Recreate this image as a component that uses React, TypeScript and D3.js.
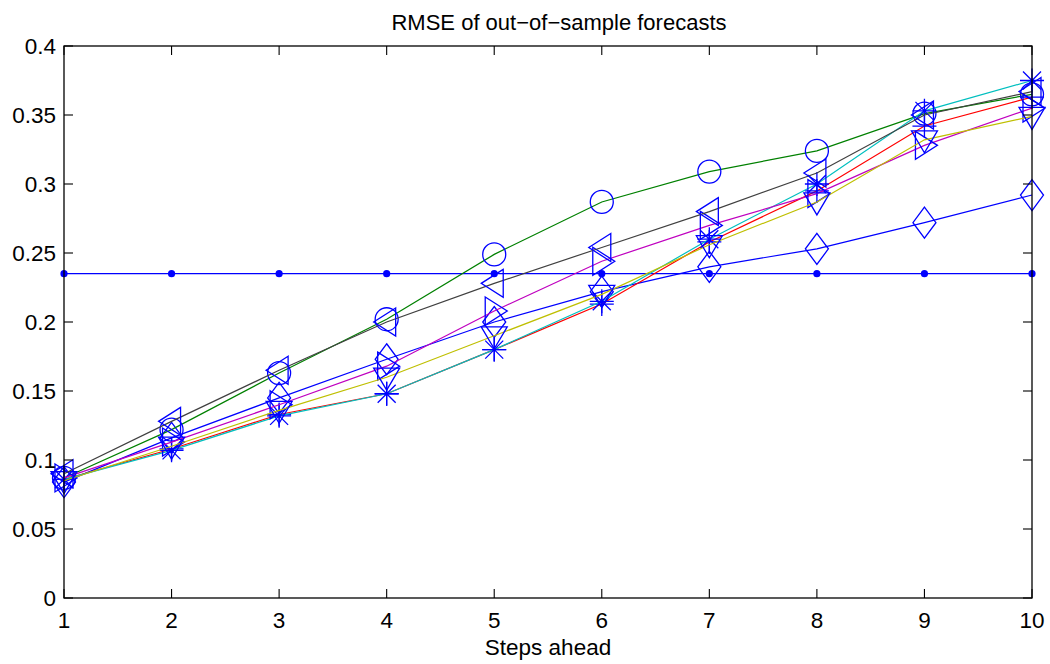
import React from "react";
import * as d3 from "d3";

const steps = [1, 2, 3, 4, 5, 6, 7, 8, 9, 10];
const xTicks = [1, 2, 3, 4, 5, 6, 7, 8, 9, 10];
const yTicks = [0, 0.05, 0.1, 0.15, 0.2, 0.25, 0.3, 0.35, 0.4];
const yTickLabels = ["0", "0.05", "0.1", "0.15", "0.2", "0.25", "0.3", "0.35", "0.4"];

const benchmark = [0.235, 0.235, 0.235, 0.235, 0.235, 0.235, 0.235, 0.235, 0.235, 0.235];
const seriesBlueDiamond = [0.084, 0.116, 0.145, 0.173, 0.2, 0.222, 0.24, 0.253, 0.272, 0.292];
const seriesGreenCircle = [0.087, 0.122, 0.163, 0.202, 0.249, 0.287, 0.309, 0.324, 0.351, 0.365];
const seriesRedPlus = [0.086, 0.108, 0.133, 0.148, 0.18, 0.213, 0.258, 0.295, 0.342, 0.363];
const seriesCyanStar = [0.086, 0.107, 0.132, 0.148, 0.18, 0.215, 0.26, 0.3, 0.353, 0.375];
const seriesMagentaRight = [0.087, 0.113, 0.14, 0.168, 0.208, 0.244, 0.27, 0.293, 0.328, 0.355];
const seriesYellowDown = [0.085, 0.11, 0.136, 0.16, 0.19, 0.22, 0.256, 0.287, 0.332, 0.349];
const seriesGreyLeft = [0.09, 0.128, 0.165, 0.2, 0.228, 0.254, 0.28, 0.308, 0.35, 0.367];

const title = "RMSE of out\u2212of\u2212sample forecasts";
const xLabel = "Steps ahead";

type Series = { values: number[]; color: string; marker: string };

const seriesList: Series[] = [
  { values: seriesBlueDiamond, color: "#0000ff", marker: "diamond" },
  { values: seriesGreenCircle, color: "#008000", marker: "circle" },
  { values: seriesRedPlus, color: "#ff0000", marker: "plus" },
  { values: seriesCyanStar, color: "#00bfbf", marker: "star" },
  { values: seriesMagentaRight, color: "#bf00bf", marker: "right" },
  { values: seriesYellowDown, color: "#bfbf00", marker: "down" },
  { values: seriesGreyLeft, color: "#404040", marker: "left" },
];

const W = 1050;
const H = 664;
const margin = { left: 64, right: 18, top: 46, bottom: 66 };

function markerPath(kind: string): string {
  switch (kind) {
    case "diamond":
      return "M0,-15.5L11.5,0L0,15.5L-11.5,0Z";
    case "circle":
      return "M11.5,0A11.5,11.5 0 1,1 -11.5,0A11.5,11.5 0 1,1 11.5,0Z";
    case "plus":
      return "M-12,0L12,0M0,-12L0,12";
    case "star":
      return "M-12,0L12,0M0,-12L0,12M-9,-9L9,9M-9,9L9,-9";
    case "right":
      return "M-9,-14L13,0L-9,14Z";
    case "left":
      return "M9,-14L-13,0L9,14Z";
    case "down":
      return "M-13,-9L13,-9L0,13Z";
    default:
      return "";
  }
}

export default function App() {
  const x = d3.scaleLinear().domain([1, 10]).range([margin.left, W - margin.right]);
  const y = d3.scaleLinear().domain([0, 0.4]).range([H - margin.bottom, margin.top]);
  const line = d3
    .line<number>()
    .x((_, i) => x(steps[i]))
    .y((d) => y(d));

  const x0 = x(1);
  const x1 = x(10);
  const y0 = y(0);
  const y1 = y(0.4);
  const tl = 9;
  const font = "Liberation Sans, Arial, Helvetica, sans-serif";

  return (
    <svg width={W} height={H} style={{ position: "absolute", left: 0, top: 0, background: "#fff" }}>
      <rect x={0} y={0} width={W} height={H} fill="#fff" />
      <path d={line(benchmark) || ""} fill="none" stroke="#0000ff" strokeWidth={1.2} />
      {benchmark.map((v, i) => (
        <circle key={"b" + i} cx={x(steps[i])} cy={y(v)} r={3.6} fill="#0000ff" />
      ))}
      {seriesList.map((s, si) => (
        <g key={"s" + si}>
          <path d={line(s.values) || ""} fill="none" stroke={s.color} strokeWidth={1.2} />
          {s.values.map((v, i) => (
            <path
              key={i}
              d={markerPath(s.marker)}
              transform={`translate(${x(steps[i])},${y(v)})`}
              fill="none"
              stroke="#0000ff"
              strokeWidth={1.3}
            />
          ))}
        </g>
      ))}
      <rect x={x0} y={y1} width={x1 - x0} height={y0 - y1} fill="none" stroke="#000" strokeWidth={1.3} />
      {xTicks.map((t) => (
        <g key={"xt" + t}>
          <line x1={x(t)} x2={x(t)} y1={y0} y2={y0 - tl} stroke="#000" strokeWidth={1.1} />
          <line x1={x(t)} x2={x(t)} y1={y1} y2={y1 + tl} stroke="#000" strokeWidth={1.1} />
          <text x={x(t)} y={y0 + 30} textAnchor="middle" fontFamily={font} fontSize={22.5} fill="#000">
            {t}
          </text>
        </g>
      ))}
      {yTicks.map((t, i) => (
        <g key={"yt" + i}>
          <line x1={x0} x2={x0 + tl} y1={y(t)} y2={y(t)} stroke="#000" strokeWidth={1.1} />
          <line x1={x1} x2={x1 - tl} y1={y(t)} y2={y(t)} stroke="#000" strokeWidth={1.1} />
          <text x={x0 - 8} y={y(t) + 8} textAnchor="end" fontFamily={font} fontSize={22.5} fill="#000">
            {yTickLabels[i]}
          </text>
        </g>
      ))}
      <text x={(x0 + x1) / 2 + 11} y={30} textAnchor="middle" fontFamily={font} fontSize={22} fill="#000">
        {title}
      </text>
      <text x={(x0 + x1) / 2} y={655} textAnchor="middle" fontFamily={font} fontSize={22.5} fill="#000">
        {xLabel}
      </text>
    </svg>
  );
}
